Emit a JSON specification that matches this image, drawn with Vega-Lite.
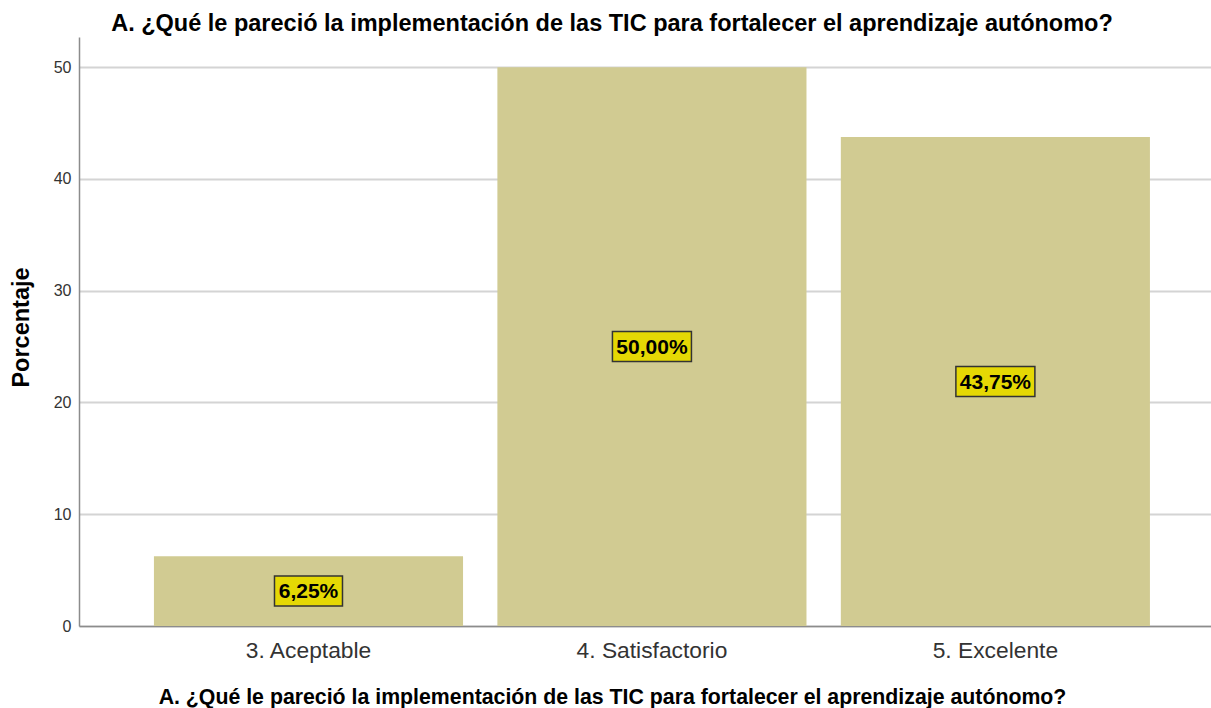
{
  "$schema": "https://vega.github.io/schema/vega-lite/v6.json",
  "width": 1132,
  "height": 589,
  "autosize": {"type": "none"},
  "padding": {"left": 79, "top": 37, "right": 0, "bottom": 82},
  "background": "white",
  "config": {
    "font": "Liberation Sans",
    "view": {"stroke": null}
  },
  "title": {
    "text": "A. ¿Qué le pareció la implementación de las TIC para fortalecer el aprendizaje autónomo?",
    "fontSize": 23.5,
    "fontWeight": "bold",
    "color": "#000000",
    "anchor": "middle",
    "frame": "group",
    "dx": -33,
    "dy": 23,
    "baseline": "alphabetic",
    "offset": 6
  },
  "data": {
    "values": [
      {"categoria": "3. Aceptable", "porcentaje": 6.25, "etiqueta": "6,25%"},
      {"categoria": "4. Satisfactorio", "porcentaje": 50.0, "etiqueta": "50,00%"},
      {"categoria": "5. Excelente", "porcentaje": 43.75, "etiqueta": "43,75%"}
    ]
  },
  "transform": [{"calculate": "datum.porcentaje / 2", "as": "mitad"}],
  "encoding": {
    "x": {
      "field": "categoria",
      "type": "nominal",
      "sort": null,
      "scale": {"paddingInner": 0.1, "paddingOuter": 0.198, "align": 0.551},
      "axis": {
        "title": "A. ¿Qué le pareció la implementación de las TIC para fortalecer el aprendizaje autónomo?",
        "titleFontSize": 21.3,
        "titleFontWeight": "bold",
        "titleColor": "#000000",
        "titleX": 533,
        "titleY": 77,
        "titleAlign": "center",
        "titleAnchor": null,
        "titleBaseline": "alphabetic",
        "labelAngle": 0,
        "labelFontSize": 22.8,
        "labelColor": "#333333",
        "labelBaseline": "alphabetic",
        "labelPadding": 31,
        "ticks": false,
        "tickSize": 0,
        "domainColor": "#8c8c8c",
        "domainWidth": 1.5,
        "grid": false
      }
    }
  },
  "layer": [
    {
      "mark": {"type": "bar", "color": "#D1CB92"},
      "encoding": {
        "y": {
          "field": "porcentaje",
          "type": "quantitative",
          "scale": {"domain": [0, 52.7], "nice": false, "zero": true},
          "axis": {
            "title": "Porcentaje",
            "titleFontSize": 23.5,
            "titleFontWeight": "bold",
            "titleColor": "#000000",
            "titleAngle": -90,
            "titleX": -58,
            "titleY": 290,
            "titleAlign": "center",
            "titleAnchor": null,
            "titleBaseline": "middle",
            "values": [0, 10, 20, 30, 40, 50],
            "labelFontSize": 16,
            "labelColor": "#333333",
            "labelPadding": 8,
            "ticks": false,
            "tickSize": 0,
            "grid": true,
            "gridColor": "#d4d4d4",
            "gridWidth": 2,
            "domainColor": "#8c8c8c",
            "domainWidth": 1.5
          }
        }
      }
    },
    {
      "mark": {"type": "point", "filled": true, "size": 400, "fill": "#E5D804", "stroke": "#333333", "strokeWidth": 1.5, "opacity": 1},
      "encoding": {
        "y": {"field": "mitad", "type": "quantitative"},
        "shape": {
          "field": "etiqueta",
          "type": "nominal",
          "legend": null,
          "scale": {
            "domain": ["6,25%", "50,00%", "43,75%"],
            "range": ["M-3.4,-1.5H3.4V1.5H-3.4Z", "M-3.95,-1.5H3.95V1.5H-3.95Z", "M-3.95,-1.5H3.95V1.5H-3.95Z"]
          }
        }
      }
    },
    {
      "mark": {"type": "text", "fontSize": 21, "fontWeight": "bold", "color": "#000000", "baseline": "middle", "align": "center", "dy": 1},
      "encoding": {
        "y": {"field": "mitad", "type": "quantitative"},
        "text": {"field": "etiqueta"}
      }
    }
  ]
}
